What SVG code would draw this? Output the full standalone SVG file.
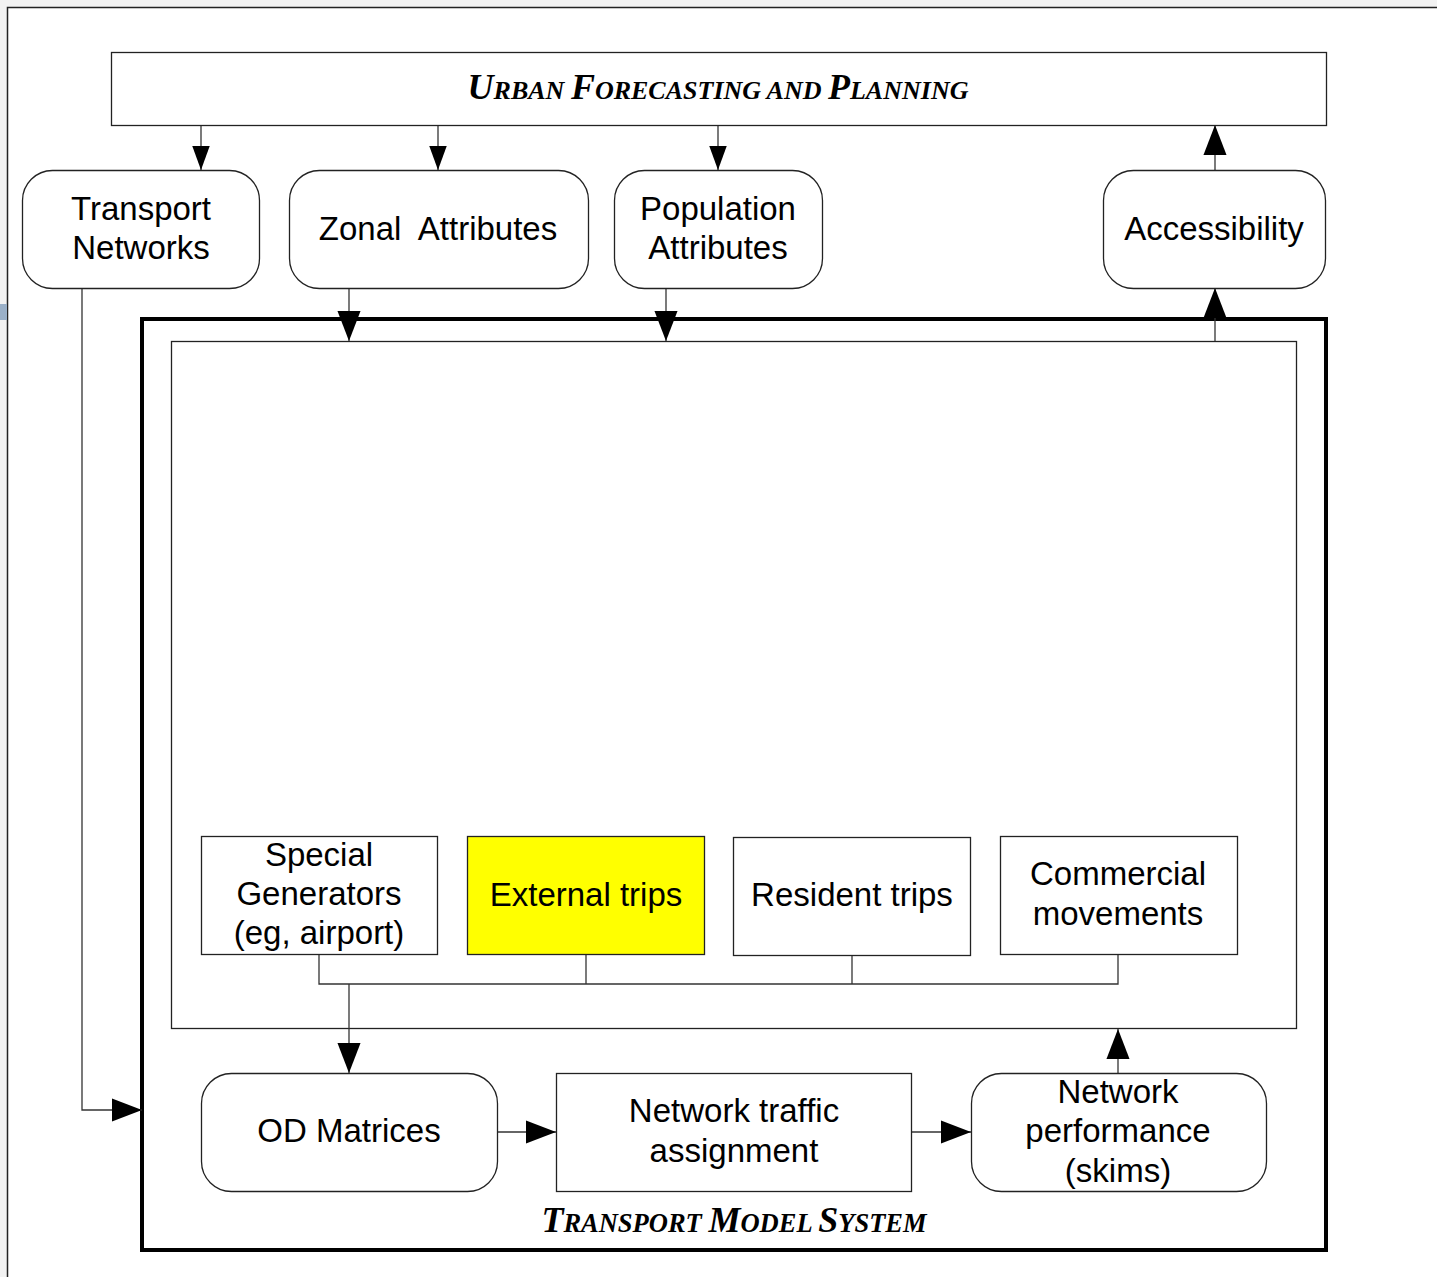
<svg xmlns="http://www.w3.org/2000/svg" width="1437" height="1277" viewBox="0 0 1437 1277">
<defs>
<marker id="ah" markerUnits="userSpaceOnUse" markerWidth="30" markerHeight="30" viewBox="0 0 26 20" refX="26" refY="10" orient="auto">
<path d="M0,0 L26,10 L0,20 Z" fill="#000"/>
</marker>
<marker id="ahs" markerUnits="userSpaceOnUse" markerWidth="24" markerHeight="24" viewBox="0 0 22 16" refX="22" refY="8" orient="auto">
<path d="M0,0 L22,8 L0,16 Z" fill="#000"/>
</marker>
<style>
.box{fill:#fff;stroke:#222;stroke-width:1.3}
.t{font-family:"Liberation Sans",Arial,sans-serif;font-size:33px;fill:#000;text-anchor:middle}
.h{font-family:"Liberation Serif","Times New Roman",serif;font-weight:bold;font-style:italic;fill:#000;text-anchor:middle}
.c{fill:none;stroke:#333;stroke-width:1.3}
</style>
</defs>
<rect x="0" y="0" width="1437" height="1277" fill="#f2f2f2"/>
<rect x="7.5" y="7.5" width="1440" height="1280" fill="#fff" stroke="#222" stroke-width="1.5"/>
<rect x="0" y="304" width="7" height="16" fill="#9ab0c8"/>

<g id="transport-model-system">
<rect x="142" y="319" width="1184" height="931" fill="none" stroke="#000" stroke-width="4"/>
<text class="h" x="734" y="1232"><tspan font-size="36">T</tspan><tspan font-size="26.5">RANSPORT </tspan><tspan font-size="36">M</tspan><tspan font-size="26.5">ODEL </tspan><tspan font-size="36">S</tspan><tspan font-size="26.5">YSTEM</tspan></text>
</g>
<g id="inner-box">
<rect x="171.5" y="341.5" width="1125" height="687" fill="#fff" stroke="#222" stroke-width="1.3"/>
</g>

<g id="connectors">
<path class="c" d="M201,125 V170" marker-end="url(#ahs)"/>
<path class="c" d="M438,125 V170" marker-end="url(#ahs)"/>
<path class="c" d="M718,125 V170" marker-end="url(#ahs)"/>
<path class="c" d="M1215,170 V125" marker-end="url(#ah)"/>
<path class="c" d="M349,288 V341" marker-end="url(#ah)"/>
<path class="c" d="M666,288 V341" marker-end="url(#ah)"/>
<path class="c" d="M1215,341 V288" marker-end="url(#ah)"/>
<path class="c" d="M82,288 V1110 H142" marker-end="url(#ah)"/>
<path class="c" d="M319,954 V984 H1118 V954"/>
<path class="c" d="M586,954 V984"/>
<path class="c" d="M852,955 V984"/>
<path class="c" d="M349,984 V1073" marker-end="url(#ah)"/>
<path class="c" d="M497,1132 H556" marker-end="url(#ah)"/>
<path class="c" d="M911,1132 H971" marker-end="url(#ah)"/>
<path class="c" d="M1118,1073 V1029" marker-end="url(#ah)"/>
</g>

<g id="urban-forecasting">
<rect class="box" x="111.5" y="52.5" width="1215" height="73"/>
<text class="h" x="718" y="99"><tspan font-size="36">U</tspan><tspan font-size="26">RBAN </tspan><tspan font-size="36">F</tspan><tspan font-size="26">ORECASTING AND </tspan><tspan font-size="36">P</tspan><tspan font-size="26">LANNING</tspan></text>
</g>
<g id="transport-networks">
<rect class="box" x="22.5" y="170.5" width="237" height="118" rx="30"/>
<text class="t" x="141" y="220">Transport</text>
<text class="t" x="141" y="259">Networks</text>
</g>
<g id="zonal-attributes">
<rect class="box" x="289.5" y="170.5" width="299" height="118" rx="30"/>
<text class="t" x="438" y="240" xml:space="preserve">Zonal  Attributes</text>
</g>
<g id="population-attributes">
<rect class="box" x="614.5" y="170.5" width="208" height="118" rx="30"/>
<text class="t" x="718" y="220">Population</text>
<text class="t" x="718" y="259">Attributes</text>
</g>
<g id="accessibility">
<rect class="box" x="1103.5" y="170.5" width="222" height="118" rx="30"/>
<text class="t" x="1214" y="240">Accessibility</text>
</g>
<g id="special-generators">
<rect class="box" x="201.5" y="836.5" width="236" height="118"/>
<text class="t" x="319" y="866">Special</text>
<text class="t" x="319" y="905">Generators</text>
<text class="t" x="319" y="944">(eg, airport)</text>
</g>
<g id="external-trips">
<rect class="box" x="467.5" y="836.5" width="237" height="118" style="fill:#ffff00"/>
<text class="t" x="586" y="906">External trips</text>
</g>
<g id="resident-trips">
<rect class="box" x="733.5" y="837.5" width="237" height="118"/>
<text class="t" x="852" y="906">Resident trips</text>
</g>
<g id="commercial-movements">
<rect class="box" x="1000.5" y="836.5" width="237" height="118"/>
<text class="t" x="1118" y="885">Commercial</text>
<text class="t" x="1118" y="925">movements</text>
</g>
<g id="od-matrices">
<rect class="box" x="201.5" y="1073.5" width="296" height="118" rx="30"/>
<text class="t" x="349" y="1142">OD Matrices</text>
</g>
<g id="network-traffic-assignment">
<rect class="box" x="556.5" y="1073.5" width="355" height="118"/>
<text class="t" x="734" y="1122">Network traffic</text>
<text class="t" x="734" y="1162">assignment</text>
</g>
<g id="network-performance">
<rect class="box" x="971.5" y="1073.5" width="295" height="118" rx="30"/>
<text class="t" x="1118" y="1103">Network</text>
<text class="t" x="1118" y="1142">performance</text>
<text class="t" x="1118" y="1182">(skims)</text>
</g>
</svg>
